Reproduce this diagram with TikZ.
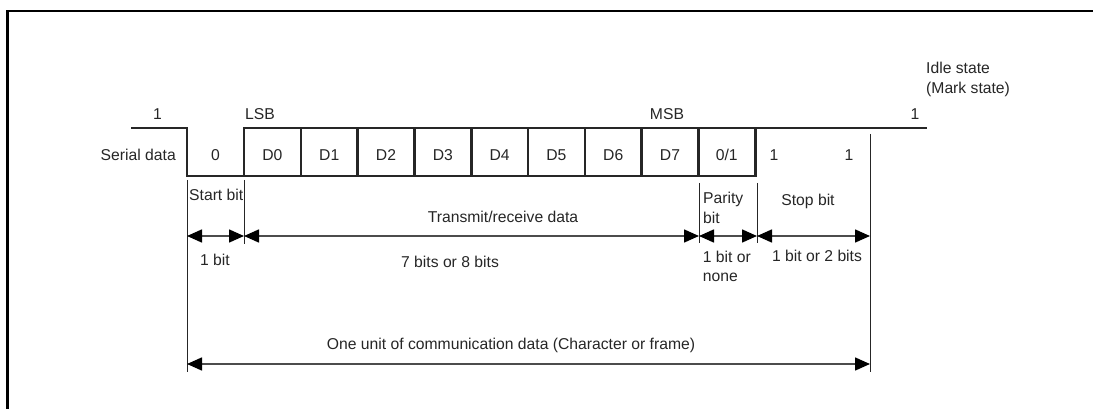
\documentclass[tikz,border=0pt]{standalone}
\usepackage{fontspec}
\setmainfont{Liberation Sans}
\usetikzlibrary{arrows.meta}

\begin{document}
\begin{tikzpicture}[
  x=1pt, y=-1pt,
  every node/.style={font=\fontsize{15.7}{19.5}\selectfont, text=black!85, inner sep=0pt},
  cell/.style={draw=black!85, line width=2.6pt, outer sep=0pt, minimum width=56.8pt, minimum height=48pt, text height=18pt, text depth=0pt},
  wave/.style={draw=black!85, line width=2.6pt},
  tick/.style={draw=black!85, line width=1pt},
  span/.style={draw=black!70, line width=1.6pt, {Triangle[length=15pt,width=13pt,color=black]}-{Triangle[length=15pt,width=13pt,color=black]}}
]
  \useasboundingbox (0,0) rectangle (1093,409);
  \draw[line width=2.6pt] (7.7,409) -- (7.7,11) -- (1093,11);

  % data cells
  \node[cell] (d0) at (272.4,152) {D0};
  \node[cell] (d1) at (329.2,152) {D1};
  \node[cell] (d2) at (386.0,152) {D2};
  \node[cell] (d3) at (442.8,152) {D3};
  \node[cell] (d4) at (499.6,152) {D4};
  \node[cell] (d5) at (556.4,152) {D5};
  \node[cell] (d6) at (613.2,152) {D6};
  \node[cell] (d7) at (670.0,152) {D7};
  \node[cell] (dp) at (726.8,152) {0/1};

  % waveform
  \coordinate (start) at (131,128);
  \coordinate (idle) at (927,128);
  \draw[wave] (start) -- (187,128) -- (187,176) -- (d0.south west);
  \draw[wave] (dp.north east) -- (idle);

  % levels and labels
  \node[anchor=base] (hi) at (157.5,119.5) {1};
  \node[anchor=base west] (lsb) at (245,119.5) {LSB};
  \node[anchor=base] (msb) at (667,119.5) {MSB};
  \node[anchor=base] (hi2) at (915,120) {1};
  \node[anchor=north west, align=left] (mark) at (926,62) {Idle state\\(Mark state)};
  \node[anchor=base east] (ser) at (176,160.7) {Serial data};
  \node[anchor=base] (b0) at (215.5,160.7) {0};
  \node[anchor=base] (s1) at (774,160.7) {1};
  \node[anchor=base] (s2) at (849,160.7) {1};

  % field boundaries
  \draw[tick] (187,180) -- (187,372);
  \draw[tick] (244,180) -- (244,244);
  \draw[tick] (699,183) -- (699,243);
  \draw[tick] (757,183) -- (757,243);
  \draw[tick] (870,134) -- (870,372);

  \node[anchor=base west] (stbit) at (189,200.7) {Start bit};
  \node[anchor=base] (trx) at (503,222.7) {Transmit/receive data};
  \node[anchor=north west, align=left] (pbit) at (703,192.4) {Parity\\bit};
  \node[anchor=base] (spbit) at (808,205.7) {Stop bit};

  % spans
  \coordinate (a0) at (187,236);
  \coordinate (a1) at (244,236);
  \coordinate (a2) at (699,236);
  \coordinate (a3) at (757,236);
  \coordinate (a4) at (870,236);
  \coordinate (u0) at (187,364);
  \coordinate (u1) at (870,364);

  \draw[span] (a0) -- (a1);
  \draw[span] (a1) -- (a2);
  \draw[span] (a2) -- (a3);
  \draw[span] (a3) -- (a4);
  \draw[span] (u0) -- (u1);

  \node[anchor=base] (w0) at (215,265.7) {1 bit};
  \node[anchor=base] (w1) at (450,267.7) {7 bits or 8 bits};
  \node[anchor=north west, align=left] (w2) at (702.7,250.8) {1 bit or\\none};
  \node[anchor=base] (w3) at (817,261.7) {1 bit or 2 bits};
  \node[anchor=base] (unit) at (511,349) {One unit of communication data (Character or frame)};

\end{tikzpicture}
\end{document}
